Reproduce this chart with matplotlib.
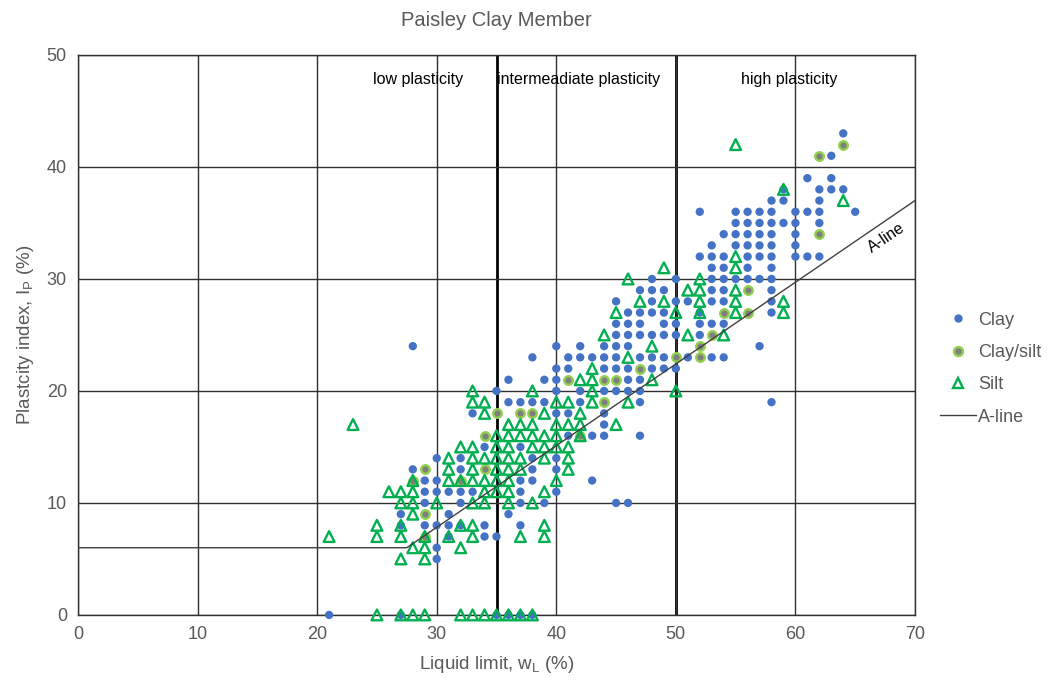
import matplotlib
matplotlib.use("Agg")
import matplotlib.pyplot as plt
from matplotlib.lines import Line2D

plt.rcParams['font.family'] = ['Liberation Sans', 'DejaVu Sans']
plt.rcParams['mathtext.fontset'] = 'custom'
plt.rcParams['mathtext.rm'] = 'Liberation Sans'

# (liquid limit, plasticity index) pairs
clay_pts = [
    (21, 0), (27, 0), (35, 0), (36, 0), (37, 0), (38, 0),
    (30, 5), (30, 6), (31, 7), (34, 7), (35, 7),
    (27, 8), (29, 8), (30, 8), (31, 8), (32, 8), (34, 8), (37, 8),
    (27, 9), (31, 9), (36, 9),
    (29, 10), (32, 10), (37, 10), (39, 10), (45, 10), (46, 10),
    (29, 11), (30, 11), (31, 11), (32, 11), (33, 11), (37, 11), (40, 11),
    (29, 12), (30, 12), (37, 12), (38, 12), (43, 12),
    (28, 13), (32, 13), (38, 13), (40, 13),
    (30, 14), (32, 14), (38, 14), (40, 14),
    (34, 15), (37, 15),
    (41, 16), (43, 16), (44, 16), (47, 16),
    (44, 17),
    (33, 18), (40, 18), (41, 18), (44, 18),
    (36, 19), (37, 19), (38, 19), (39, 19), (42, 19), (47, 19), (58, 19),
    (35, 20), (40, 20), (42, 20), (44, 20), (45, 20), (46, 20), (47, 20),
    (36, 21), (39, 21), (40, 21), (46, 21), (47, 21),
    (40, 22), (41, 22), (44, 22), (45, 22), (46, 22), (48, 22), (49, 22), (50, 22),
    (38, 23), (41, 23), (42, 23), (43, 23), (44, 23), (45, 23), (47, 23), (48, 23),
    (49, 23), (51, 23), (53, 23), (54, 23),
    (28, 24), (40, 24), (42, 24), (44, 24), (45, 24), (46, 24), (57, 24),
    (45, 25), (46, 25), (47, 25), (48, 25), (49, 25), (50, 25), (52, 25),
    (45, 26), (46, 26), (47, 26), (49, 26), (50, 26), (52, 26), (53, 26), (54, 26),
    (46, 27), (47, 27), (48, 27), (49, 27), (52, 27), (58, 27),
    (45, 28), (48, 28), (50, 28), (51, 28), (53, 28), (54, 28), (58, 28),
    (47, 29), (48, 29), (49, 29), (53, 29), (54, 29), (58, 29),
    (48, 30), (50, 30), (53, 30), (54, 30), (55, 30), (56, 30), (57, 30), (58, 30),
    (53, 31), (54, 31), (56, 31), (58, 31),
    (52, 32), (53, 32), (54, 32), (56, 32), (57, 32), (58, 32), (60, 32), (61, 32), (62, 32),
    (53, 33), (55, 33), (56, 33), (57, 33), (58, 33), (60, 33),
    (54, 34), (55, 34), (56, 34), (57, 34), (58, 34), (60, 34),
    (55, 35), (56, 35), (57, 35), (58, 35), (59, 35), (60, 35), (62, 35),
    (52, 36), (55, 36), (56, 36), (57, 36), (58, 36), (60, 36), (61, 36), (62, 36), (65, 36),
    (58, 37), (59, 37), (62, 37),
    (59, 38), (62, 38), (63, 38), (64, 38),
    (61, 39), (63, 39), (63, 41), (64, 43),
]

claysilt_pts = [
    (29, 7), (29, 9), (28, 12), (32, 12), (29, 13), (34, 13), (34, 16),
    (42, 16), (35, 18), (37, 18), (38, 18), (44, 19),
    (41, 21), (44, 21), (45, 21), (47, 22), (50, 23), (52, 23), (52, 24),
    (53, 25), (54, 27), (56, 27), (56, 29), (62, 34), (62, 41), (64, 42),
]

silt_pts = [
    (25, 0), (27, 0), (28, 0), (29, 0), (32, 0), (33, 0), (34, 0),
    (35, 0), (36, 0), (37, 0), (38, 0),
    (27, 5), (29, 5), (28, 6), (29, 6), (32, 6),
    (21, 7), (25, 7), (27, 7), (29, 7), (31, 7), (33, 7), (37, 7), (39, 7),
    (25, 8), (27, 8), (32, 8), (33, 8), (39, 8),
    (28, 9),
    (27, 10), (28, 10), (30, 10), (33, 10), (34, 10), (36, 10), (38, 10),
    (26, 11), (27, 11), (28, 11), (34, 11), (35, 11), (36, 11), (39, 11),
    (28, 12), (31, 12), (32, 12), (33, 12), (34, 12), (35, 12), (36, 12), (40, 12),
    (31, 13), (33, 13), (35, 13), (36, 13), (37, 13), (41, 13),
    (31, 14), (33, 14), (34, 14), (35, 14), (36, 14), (37, 14), (39, 14), (41, 14),
    (32, 15), (33, 15), (35, 15), (36, 15), (38, 15), (39, 15), (40, 15), (41, 15),
    (35, 16), (36, 16), (37, 16), (38, 16), (39, 16), (40, 16), (42, 16),
    (23, 17), (36, 17), (37, 17), (38, 17), (40, 17), (41, 17), (42, 17), (45, 17),
    (34, 18), (39, 18), (42, 18),
    (33, 19), (34, 19), (40, 19), (41, 19), (43, 19), (46, 19),
    (33, 20), (38, 20), (43, 20), (50, 20),
    (42, 21), (43, 21), (48, 21), (43, 22), (46, 23), (48, 24),
    (44, 25), (51, 25), (54, 25),
    (45, 27), (50, 27), (52, 27), (55, 27), (59, 27),
    (47, 28), (49, 28), (52, 28), (55, 28), (59, 28),
    (51, 29), (52, 29), (55, 29),
    (46, 30), (52, 30), (49, 31), (55, 31), (55, 32),
    (64, 37), (59, 38), (55, 42),
]

aline_wl = [0, 27.5, 70]
aline_ip = [6, 6, 37]

x_ticks = [0, 10, 20, 30, 40, 50, 60, 70]
y_ticks = [0, 10, 20, 30, 40, 50]
zone_bounds = [35, 50]
zone_labels = [(28.4, 'low plasticity', 'center'),
               (35.0, 'intermeadiate plasticity', 'left'),
               (59.5, 'high plasticity', 'center')]

text_col = '#595959'

fig = plt.figure(figsize=(10.6, 6.84), dpi=100)
ax = fig.add_axes([0.0736, 0.101, 0.7896, 0.8186])

ax.set_xlim(0, 70)
ax.set_ylim(0, 50)
ax.set_xticks(x_ticks)
ax.set_yticks(y_ticks)
ax.tick_params(length=0, labelsize=13, labelcolor=text_col, pad=8)
ax.grid(True, color='#303030', linewidth=1.0, zorder=0)
for s in ax.spines.values():
    s.set_color('#303030')
    s.set_linewidth(1.0)
for b in zone_bounds:
    ax.axvline(b, color='black', linewidth=2.0, zorder=1)

cw, ci = zip(*clay_pts)
ax.scatter(cw, ci, s=36, color='#4472C4', edgecolors='none', zorder=3,
           clip_on=False, label='Clay')
sw, si = zip(*claysilt_pts)
ax.scatter(sw, si, s=38, color='#7f7f7f', edgecolors='#92D050', linewidths=1.7,
           zorder=4, clip_on=False, label='Clay/silt')
tw, ti = zip(*silt_pts)
ax.scatter(tw, ti, s=60, marker='^', facecolors='none', edgecolors='#00B050',
           linewidths=1.7, zorder=5, clip_on=False, label='Silt')
ax.plot(aline_wl, aline_ip, color='#404040', linewidth=1.0, zorder=6, label='A-line')

for xw, txt, ha in zone_labels:
    ax.text(xw, 47.8, txt, ha=ha, va='center', fontsize=11.5, color='black', zorder=7)
ax.text(67.6, 33.7, 'A-line', rotation=34, ha='center', va='center',
        fontsize=11.5, color='black', zorder=7)

ax.set_title('Paisley Clay Member', fontsize=14.5, color=text_col, pad=21)
ax.set_xlabel(r'Liquid limit, w$\mathregular{_L}$ (%)', fontsize=13.5, color=text_col, labelpad=8)
ax.set_ylabel(r'Plastcity index, I$\mathregular{_P}$ (%)', fontsize=13.5, color=text_col, labelpad=8)

handles = [
    Line2D([], [], marker='o', linestyle='none', markersize=6, color='#4472C4', markeredgecolor='none'),
    Line2D([], [], marker='o', linestyle='none', markersize=6.5, markerfacecolor='#7f7f7f',
           markeredgecolor='#92D050', markeredgewidth=1.7),
    Line2D([], [], marker='^', linestyle='none', markersize=7.5, markerfacecolor='none',
           markeredgecolor='#00B050', markeredgewidth=1.7),
    Line2D([], [], color='#404040', linewidth=1.0),
]
leg = ax.legend(handles, ['Clay', 'Clay/silt', 'Silt', 'A-line'], loc='center left',
                bbox_to_anchor=(1.01, 0.44), frameon=False, fontsize=13,
                handlelength=2.0, handletextpad=0.15, labelspacing=0.85)
for t in leg.get_texts():
    t.set_color(text_col)

fig.savefig('out.png', dpi=100)
